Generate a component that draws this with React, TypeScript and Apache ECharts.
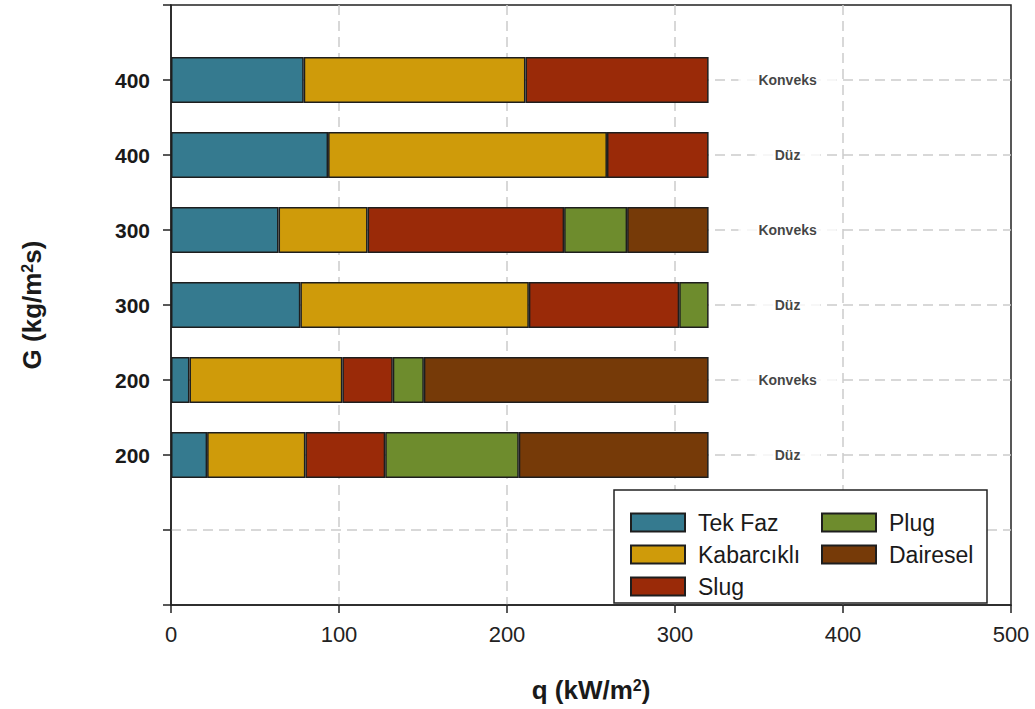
import React, { useEffect, useRef } from "react";
import * as echarts from "echarts";

// Rows, bottom to top (category index 0..8)
const rowKeys = ["0", "1", "2", "3", "4", "5", "6", "7", "8"];
const rowLabels = ["", "", "200", "200", "300", "300", "400", "400", ""];
const surfaceLabels = ["", "", "Düz", "Konveks", "Düz", "Konveks", "Düz", "Konveks", ""];

const seriesNames = ["Tek Faz", "Kabarcıklı", "Slug", "Plug", "Dairesel"];
const tekFaz = [null, null, 21.5, 11, 77, 64, 93.5, 79, null];
const kabarcikli = [null, null, 58.5, 91, 136, 53, 166, 132, null];
const slug = [null, null, 47.5, 30, 89.5, 117, 60.5, 109, null];
const plug = [null, null, 79.5, 18.5, 17.5, 37.5, null, null, null];
const dairesel = [null, null, 113, 169.5, null, 48.5, null, null, null];
const seriesValues = [tekFaz, kabarcikli, slug, plug, dairesel];
const seriesColors = ["#357a8f", "#cf9b0a", "#9a2a08", "#6e8c2d", "#763a08"];

const xTicks = [0, 100, 200, 300, 400, 500];
const LABEL_Q = 367;

const FONT = "Liberation Sans, Arial, sans-serif";

export default function App() {
  const ref = useRef<HTMLDivElement>(null);
  useEffect(() => {
    document.body.style.margin = "0";
    const chart = echarts.init(ref.current!, null, { renderer: "svg" });
    const barSeries = seriesNames.map((name, i) => ({
      name,
      type: "bar",
      stack: "total",
      barWidth: 46,
      data: seriesValues[i],
      itemStyle: { color: seriesColors[i], borderColor: "#1e1e1e", borderWidth: 1.5 },
      z: 2,
    }));
    const labelData = surfaceLabels
      .map((s, i) => (s ? { name: s, value: [LABEL_Q, i] } : null))
      .filter(Boolean);
    const legendCommon = {
      orient: "vertical",
      top: 511,
      padding: 0,
      icon: "rect",
      itemWidth: 54,
      itemHeight: 18,
      itemGap: 9,
      selectedMode: false,
      z: 5,
      textStyle: { fontSize: 23, color: "#1a1a1a", fontFamily: FONT, lineHeight: 18, padding: [0, 0, 0, 8] },
    };
    chart.setOption({
      animation: false,
      backgroundColor: "#fff",
      textStyle: { fontFamily: FONT },
      grid: {
        left: 171,
        right: 24,
        top: 5,
        bottom: 104,
        show: true,
        borderColor: "#222",
        borderWidth: 1.5,
        backgroundColor: "transparent",
      },
      xAxis: {
        type: "value",
        min: xTicks[0],
        max: xTicks[xTicks.length - 1],
        interval: 100,
        name: "q (kW/m{sup|2})",
        nameLocation: "middle",
        nameGap: 72,
        nameTextStyle: {
          fontSize: 26,
          fontWeight: "bold",
          color: "#1a1a1a",
          fontFamily: FONT,
          rich: {
            sup: { fontSize: 16, fontWeight: "bold", verticalAlign: "top", color: "#1a1a1a", fontFamily: FONT },
          },
        },
        axisLine: { show: true, lineStyle: { color: "#222", width: 1.5 } },
        axisTick: { show: true, length: 8, lineStyle: { color: "#222", width: 1.5 } },
        axisLabel: { fontSize: 22, color: "#222", margin: 18, fontFamily: FONT },
        splitLine: {
          show: true,
          showMinLine: false,
          showMaxLine: false,
          lineStyle: { color: "#cccccc", width: 1.5, type: [10, 6] },
        },
      },
      yAxis: {
        type: "category",
        data: rowKeys,
        boundaryGap: false,
        name: "G (kg/m{sup|2}s)",
        nameLocation: "middle",
        nameGap: 126,
        nameRotate: 90,
        nameTextStyle: {
          fontSize: 26,
          fontWeight: "bold",
          color: "#1a1a1a",
          fontFamily: FONT,
          rich: {
            sup: { fontSize: 16, fontWeight: "bold", verticalAlign: "top", color: "#1a1a1a", fontFamily: FONT },
          },
        },
        axisLine: { show: true, lineStyle: { color: "#222", width: 1.5 } },
        axisTick: { show: true, length: 8, interval: 0, lineStyle: { color: "#222", width: 1.5 } },
        axisLabel: {
          interval: 0,
          fontSize: 21,
          fontWeight: "bold",
          color: "#1a1a1a",
          margin: 21,
          fontFamily: FONT,
          formatter: (_v: string, i: number) => rowLabels[i],
        },
        splitLine: {
          show: true,
          interval: (i: number) => i !== 0 && i !== rowKeys.length - 1,
          lineStyle: { color: "#cccccc", width: 1.5, type: [10, 6] },
        },
      },
      legend: [
        { ...legendCommon, data: seriesNames.slice(0, 3), left: 630 },
        { ...legendCommon, data: seriesNames.slice(3), left: 821 },
      ],
      graphic: [
        {
          type: "rect",
          z: 3,
          shape: { x: 614, y: 490, width: 373, height: 113 },
          style: { fill: "#fff", stroke: "#222", lineWidth: 1.5 },
        },
      ],
      series: [
        ...barSeries,
        {
          type: "scatter",
          name: "labels",
          symbol: "rect",
          symbolSize: 1,
          itemStyle: { color: "rgba(0,0,0,0)" },
          data: labelData,
          z: 3,
          label: {
            show: true,
            position: "inside",
            formatter: (p: any) => p.name,
            fontSize: 14,
            fontWeight: "bold",
            color: "#111",
            fontFamily: FONT,
            backgroundColor: "#fff",
            padding: [4, 20],
          },
        },
      ],
    });
    return () => chart.dispose();
  }, []);
  return (
    <div
      ref={ref}
      style={{ position: "absolute", left: 0, top: 0, width: 1035, height: 709 }}
    />
  );
}
